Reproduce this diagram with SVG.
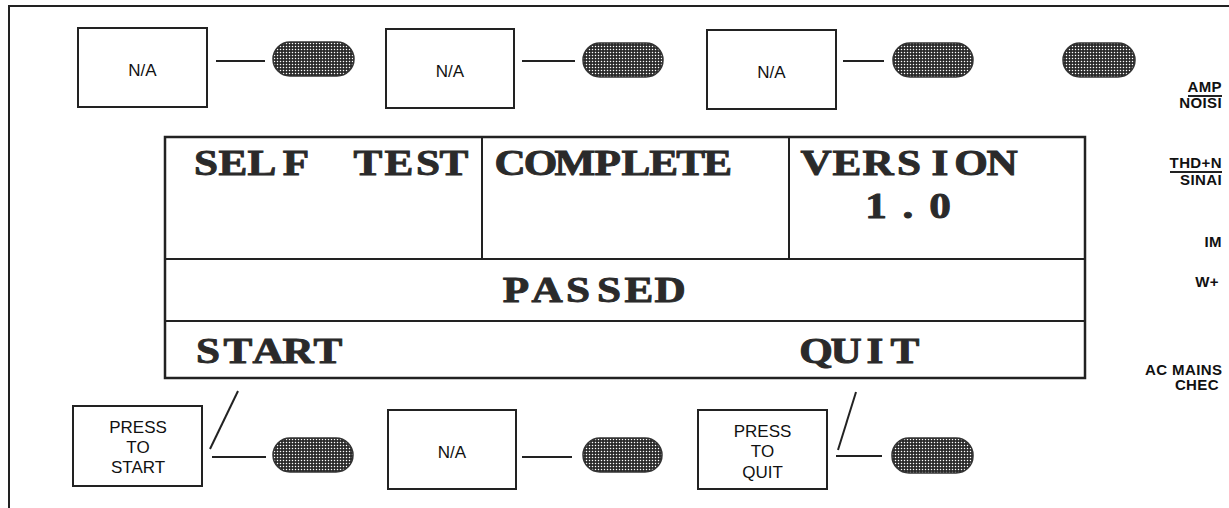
<svg xmlns="http://www.w3.org/2000/svg" width="1229" height="508" viewBox="0 0 1229 508">
<style>
.box{fill:#fff;stroke:#222;stroke-width:2}
.pill{fill:url(#dots);stroke:#333;stroke-width:1.5}
.ln{stroke:#222;stroke-width:2;fill:none}
.lbl{font-family:"Liberation Sans",Arial,sans-serif;font-size:17px;fill:#111;text-anchor:middle}
.disp{font-family:"Liberation Serif","Times New Roman",serif;font-weight:bold;font-size:36px;fill:#2a2a2a;stroke:#2a2a2a;stroke-width:0.9;text-anchor:middle}
.side{font-family:"Liberation Sans",Arial,sans-serif;font-weight:bold;font-size:15px;letter-spacing:0.4px;fill:#111;text-anchor:end}
</style>
<defs>
<pattern id="dots" width="3" height="3" patternUnits="userSpaceOnUse">
<rect width="3" height="3" fill="#2a2a2a"/>
<circle cx="1.5" cy="1.5" r="0.75" fill="#fff"/>
</pattern>
</defs>
<rect width="1229" height="508" fill="#fff"/>
<path class="ln" d="M9,508 V6 H1229"/>

<g id="btn-top-1">
<rect class="box" x="78" y="28" width="129" height="79"/>
<text class="lbl" x="142.5" y="76">N/A</text>
</g>
<g id="btn-top-2">
<rect class="box" x="386" y="29" width="128" height="79"/>
<text class="lbl" x="450" y="77">N/A</text>
</g>
<g id="btn-top-3">
<rect class="box" x="707" y="30" width="129" height="79"/>
<text class="lbl" x="771.5" y="78">N/A</text>
</g>
<g id="key-top-1"><rect class="pill" x="273" y="42" width="81" height="34" rx="17"/></g>
<g id="key-top-2"><rect class="pill" x="583" y="43" width="80" height="34" rx="17"/></g>
<g id="key-top-3"><rect class="pill" x="893" y="43" width="80" height="34" rx="17"/></g>
<g id="key-top-4"><rect class="pill" x="1063" y="43" width="72" height="34" rx="17"/></g>

<g id="display">
<rect x="165" y="137" width="920" height="241" fill="#fff" stroke="#222" stroke-width="2.5"/>
<path class="ln" d="M165,259 H1085 M165,321 H1085 M482,137 V259 M789,137 V259" stroke-width="2.5"/>
<g transform="scale(1.2,1)">
<text class="disp" x="171.67 194.17 218.33 246.67 276.67 306.67 332.5 356.67 378.33" y="175">SELF TEST</text>
<text class="disp" x="425 450.5 479 506.5 530 553 575.5 598" y="175">COMPLETE</text>
<text class="disp" x="680 705.83 731.67 757.5 783.33 809.17 835" y="175">VERSION</text>
<text class="disp" x="730 756.67 783.33" y="218">1.0</text>
<text class="disp" x="430 455.83 481.67 507.5 532.5 558.33" y="302">PASSED</text>
<text class="disp" x="173.33 198.33 223.33 248.33 273.33" y="363">START</text>
<text class="disp" x="680 705 729.17 754.17" y="363">QUIT</text>
</g>
</g>

<g id="btn-bot-1">
<rect class="box" x="73" y="406" width="129" height="80"/>
<text class="lbl" x="138" y="433">PRESS</text>
<text class="lbl" x="138" y="453">TO</text>
<text class="lbl" x="138" y="473">START</text>
</g>
<g id="btn-bot-2">
<rect class="box" x="388" y="410" width="128" height="79"/>
<text class="lbl" x="452" y="458">N/A</text>
</g>
<g id="btn-bot-3">
<rect class="box" x="698" y="410" width="129" height="79"/>
<text class="lbl" x="762.5" y="437">PRESS</text>
<text class="lbl" x="762.5" y="457">TO</text>
<text class="lbl" x="762.5" y="478">QUIT</text>
</g>
<g id="key-bot-1"><rect class="pill" x="273" y="438" width="80" height="34" rx="17"/></g>
<g id="key-bot-2"><rect class="pill" x="583" y="438" width="79" height="34" rx="17"/></g>
<g id="key-bot-3"><rect class="pill" x="892" y="438" width="81" height="35" rx="17"/></g>

<g id="connectors">
<path class="ln" d="M216,61 H265"/>
<path class="ln" d="M522,61 H575"/>
<path class="ln" d="M843,61 H884"/>
<path class="ln" d="M212,457 H266"/>
<path class="ln" d="M210,449 L238,391"/>
<path class="ln" d="M522,457 H572"/>
<path class="ln" d="M836,456 H882"/>
<path class="ln" d="M838,450 L856,392"/>
</g>

<g id="side-labels">
<text class="side" x="1222" y="92">AMP</text>
<path class="ln" d="M1188,96 H1222" stroke-width="1.5"/>
<text class="side" x="1222" y="108">NOISI</text>
<text class="side" x="1222" y="168">THD+N</text>
<path class="ln" d="M1170,172 H1222" stroke-width="1.5"/>
<text class="side" x="1222" y="185">SINAI</text>
<text class="side" x="1222" y="247">IM</text>
<text class="side" x="1219" y="287">W+</text>
<text class="side" x="1145" y="375" style="text-anchor:start">AC MAINS</text>
<text class="side" x="1219" y="390">CHEC</text>
</g>
</svg>
